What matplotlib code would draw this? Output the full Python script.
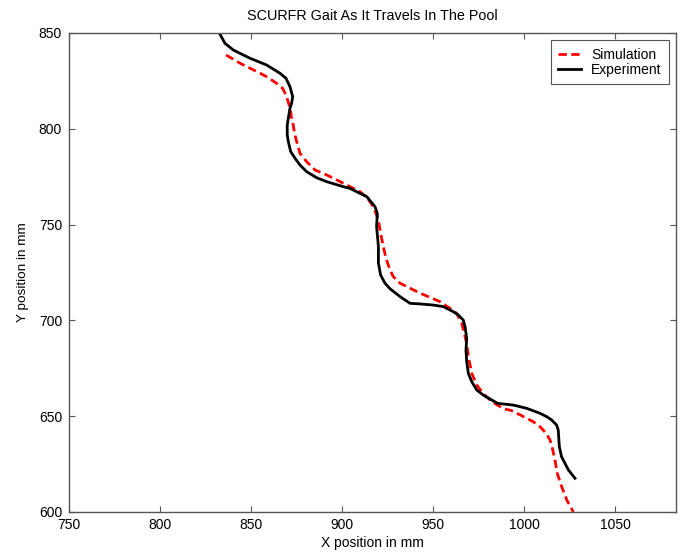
import numpy as np
import matplotlib.pyplot as plt

plt.rcParams['font.family'] = ['Liberation Sans', 'DejaVu Sans']

# Experiment trajectory (black)
exp_x = [832.6, 835.7, 840.3, 849.5, 858.6, 865.9, 869.2, 871.4, 872.9, 872.3,
         871.4, 869.9, 869.9, 870.5, 871.8, 874.2, 876.9, 880.6, 886.0, 891.6,
         900.7, 904.4, 909.9, 913.6, 918.1, 919.4, 919.0, 920.0, 920.0, 921.2,
         923.6, 926.4, 931.9, 937.4, 942.9, 950.2, 955.6, 961.2, 963.9, 966.6,
         967.6, 968.5, 968.1, 968.5, 969.4, 971.3, 974.0, 977.6, 985.5, 994.1,
         1001.5, 1008.8, 1012.4, 1015.2, 1017.9, 1018.8, 1019.4, 1020.6, 1024.4,
         1028.0]
exp_y = [850.0, 844.6, 841.1, 836.8, 833.3, 829.0, 826.4, 822.0, 816.8, 813.3,
         810.7, 802.0, 796.8, 793.3, 788.1, 784.6, 781.1, 777.6, 774.5, 772.4,
         769.8, 768.9, 766.3, 764.6, 759.4, 755.9, 749.0, 738.5, 729.9, 723.7,
         719.4, 716.5, 712.4, 708.9, 708.6, 708.0, 707.2, 704.5, 702.8, 700.2,
         696.7, 690.6, 684.5, 678.5, 672.4, 668.0, 663.7, 661.0, 656.7, 655.8,
         654.1, 651.5, 649.8, 648.0, 645.4, 642.8, 634.1, 628.9, 621.9,
         617.6]

# Simulation trajectory (red dashed)
sim_x = [836.3, 840.3, 844.0, 849.5, 855.0, 859.5, 864.1, 867.4, 869.2, 870.7,
         871.8, 872.3, 873.2, 873.9, 875.1, 876.9, 880.6, 885.2, 891.6, 900.7,
         909.9, 914.0, 917.2, 920.0, 921.2, 922.7, 924.2, 926.4, 928.2, 931.9,
         937.4, 942.9, 948.4, 953.8, 959.3, 963.0, 965.8, 968.5, 969.4, 971.3,
         974.0, 977.6, 982.3, 988.6, 993.2, 1000.5, 1005.1, 1008.8, 1012.2,
         1014.3, 1015.8, 1017.0, 1018.3, 1020.7, 1023.5, 1027.1]
sim_y = [838.5, 836.3, 834.2, 831.6, 829.0, 826.7, 823.7, 821.1, 817.6, 813.3,
         808.9, 805.5, 802.0, 797.7, 793.3, 787.2, 782.8, 778.5, 775.9, 771.6,
         767.2, 763.8, 759.4, 752.4, 745.4, 738.5, 732.3, 726.3, 722.8, 719.4,
         716.8, 714.2, 712.0, 709.8, 706.3, 703.7, 698.5, 688.0, 681.1, 672.4,
         666.3, 661.9, 657.6, 654.0, 652.9, 649.4, 647.1, 644.5, 641.0,
         637.6, 632.3, 627.1, 620.1, 613.2, 606.3, 600.0]

x_ticks = [750, 800, 850, 900, 950, 1000, 1050]
y_ticks = [600, 650, 700, 750, 800, 850]

fig = plt.figure(figsize=(6.81, 5.57), dpi=100)
ax = fig.add_axes([69/681, 45/557, 607/681, 479/557])

ax.plot(sim_x, sim_y, color='#ff0000', linestyle='--', linewidth=2.0,
        dashes=(3, 1.6), label='Simulation')
ax.plot(exp_x, exp_y, color='black', linewidth=2.0, label='Experiment',
        solid_joinstyle='round')

ax.set_xlim(750, 1083.5)
ax.set_ylim(600, 850)
ax.set_xticks(x_ticks)
ax.set_yticks(y_ticks)
ax.tick_params(direction='in', length=4, top=True, right=True, labelsize=10,
               color='#555555')
ax.tick_params(axis='x', pad=4.5)
ax.tick_params(axis='y', pad=5)
for s in ax.spines.values():
    s.set_color('#555555')
    s.set_linewidth(1.0)

ax.set_title('SCURFR Gait As It Travels In The Pool', fontsize=10.4, pad=9.5)
ax.set_xlabel('X position in mm', fontsize=10, labelpad=2.5)
ax.set_ylabel('Y position in mm', fontsize=9.7, labelpad=7)

leg = ax.legend(loc='upper right', fontsize=10, fancybox=False, framealpha=1,
                edgecolor='#555555', borderpad=0.55, labelspacing=0.08,
                handlelength=1.65, handletextpad=0.7, borderaxespad=0.5)
leg.get_frame().set_linewidth(0.8)

fig.savefig('out.png', dpi=100)
